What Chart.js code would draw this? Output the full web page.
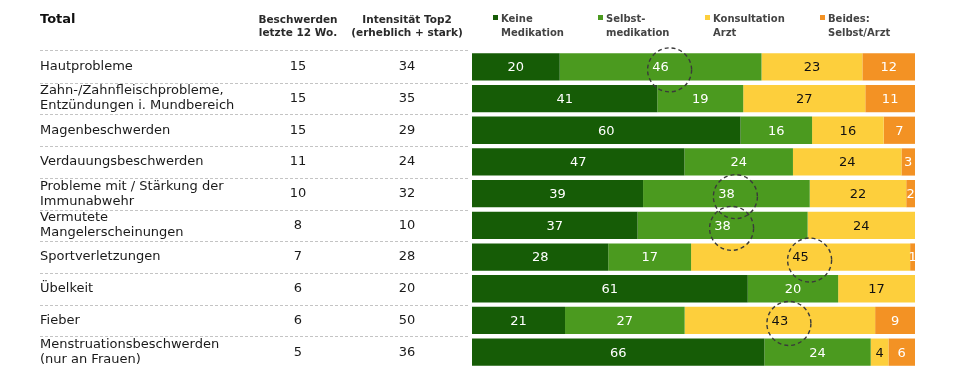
<!DOCTYPE html>
<html>
<head>
<meta charset="utf-8">
<title>Total</title>
<script src="https://cdn.jsdelivr.net/npm/chart.js"></script>
<style>body{margin:0;background:#fff}</style>
</head>
<body>
<canvas id="chart" width="955" height="376"></canvas>
<script>
var categories = [
    'Hautprobleme',
    ['Zahn-/Zahnfleischprobleme,', 'Entzündungen i. Mundbereich'],
    'Magenbeschwerden',
    'Verdauungsbeschwerden',
    ['Probleme mit / Stärkung der', 'Immunabwehr'],
    ['Vermutete', 'Mangelerscheinungen'],
    'Sportverletzungen',
    'Übelkeit',
    'Fieber',
    ['Menstruationsbeschwerden', '(nur an Frauen)']
];
var beschwerden12Wo = [15, 15, 15, 11, 10, 8, 7, 6, 6, 5];
var intensitaetTop2 = [34, 35, 29, 24, 32, 10, 28, 20, 50, 36];

var keineMedikation = [20, 41, 60, 47, 39, 37, 28, 61, 21, 66];
var selbstmedikation = [46, 19, 16, 24, 38, 38, 17, 20, 27, 24];
var konsultationArzt = [23, 27, 16, 24, 22, 24, 45, 17, 43, 4];
var beidesSelbstArzt = [12, 11, 7, 3, 2, null, 1, null, 9, 6];

var seriesNames = [['Keine', 'Medikation'], ['Selbst-', 'medikation'], ['Konsultation', 'Arzt'], ['Beides:', 'Selbst/Arzt']];
var seriesColors = ['#165c06', '#4b9a1f', '#fdcf3c', '#f39224'];
var valueColors = ['#ffffff', '#ffffff', '#111111', '#ffffff'];
var headers = [['Beschwerden', 'letzte 12 Wo.'], ['Intensität Top2', '(erheblich + stark)']];
// values marked with a dashed circle: [row, series]
var circled = [[0, 1], [4, 1], [5, 1], [6, 2], [8, 2]];

var FONT = "'DejaVu Sans', Verdana, sans-serif";
var raw = [keineMedikation, selbstmedikation, konsultationArzt, beidesSelbstArzt];

// each row is drawn as 100 %
var rowSums = categories.map(function (c, i) {
    return raw.reduce(function (s, arr) { return s + (arr[i] || 0); }, 0);
});
var datasets = raw.map(function (arr, k) {
    return {
        label: seriesNames[k].join(' '),
        data: arr.map(function (v, i) { return v == null ? null : v / rowSums[i] * 100; }),
        backgroundColor: seriesColors[k],
        borderWidth: 0,
        barPercentage: 0.86,
        categoryPercentage: 1
    };
});

var tablePlugin = {
    id: 'table',
    beforeDraw: function (chart) {
        var ctx = chart.ctx, y = chart.scales.y, area = chart.chartArea;
        ctx.save();
        // dashed row separators
        ctx.strokeStyle = '#c4c4c4';
        ctx.lineWidth = 1;
        ctx.setLineDash([3, 2]);
        var lines = [area.top - 0.5];
        for (var i = 0; i < categories.length - 1; i++) {
            lines.push(Math.round((y.getPixelForValue(i) + y.getPixelForValue(i + 1)) / 2) + 0.5);
        }
        lines.forEach(function (ly) {
            ctx.beginPath();
            ctx.moveTo(40, ly);
            ctx.lineTo(468, ly);
            ctx.stroke();
        });
        ctx.restore();
    },
    afterDraw: function (chart) {
        var ctx = chart.ctx, y = chart.scales.y, area = chart.chartArea;
        ctx.save();
        ctx.textBaseline = 'middle';
        ctx.fillStyle = '#111';
        ctx.textAlign = 'left';
        ctx.font = 'bold 13px ' + FONT;
        ctx.fillText('Total', 40, 20);

        var cols = [298, 407];
        ctx.font = 'bold 10.5px ' + FONT;
        ctx.fillStyle = '#2a2a2a';
        ctx.textAlign = 'center';
        headers.forEach(function (h, c) {
            ctx.fillText(h[0], cols[c], 20);
            ctx.fillText(h[1], cols[c], 33);
        });

        // legend
        var legendX = [area.left + 21, area.left + 126, area.left + 233, area.left + 348];
        ctx.textAlign = 'left';
        ctx.font = 'bold 10px ' + FONT;
        seriesNames.forEach(function (n, k) {
            ctx.fillStyle = seriesColors[k];
            ctx.fillRect(legendX[k], 15, 5, 5);
            ctx.fillStyle = '#444';
            ctx.fillText(n[0], legendX[k] + 8, 19);
            ctx.fillText(n[1], legendX[k] + 8, 33);
        });

        // number columns
        ctx.font = '13px ' + FONT;
        ctx.fillStyle = '#1a1a1a';
        ctx.textAlign = 'center';
        categories.forEach(function (c, i) {
            var py = y.getPixelForValue(i);
            ctx.fillText(String(beschwerden12Wo[i]), cols[0], py);
            ctx.fillText(String(intensitaetTop2[i]), cols[1], py);
        });
        ctx.restore();
    },
    afterDatasetsDraw: function (chart) {
        var ctx = chart.ctx;
        ctx.save();
        ctx.font = '13px ' + FONT;
        ctx.textAlign = 'center';
        ctx.textBaseline = 'middle';
        chart.data.datasets.forEach(function (ds, k) {
            var meta = chart.getDatasetMeta(k);
            meta.data.forEach(function (bar, i) {
                var v = raw[k][i];
                if (v == null) return;
                ctx.fillStyle = valueColors[k];
                ctx.fillText(String(v), (bar.x + bar.base) / 2, bar.y + 1);
            });
        });
        // dashed circles
        ctx.strokeStyle = '#3a3a3a';
        ctx.lineWidth = 1.4;
        ctx.setLineDash([4, 3]);
        circled.forEach(function (c) {
            var bar = chart.getDatasetMeta(c[1]).data[c[0]];
            ctx.beginPath();
            ctx.arc((bar.x + bar.base) / 2 + 9, bar.y + 3, 22, 0, Math.PI * 2);
            ctx.stroke();
        });
        ctx.restore();
    }
};

var chart = new Chart(document.getElementById('chart').getContext('2d'), {
    type: 'bar',
    data: { labels: categories, datasets: datasets },
    options: {
        indexAxis: 'y',
        responsive: false,
        animation: false,
        devicePixelRatio: 1,
        layout: { padding: { left: 40, right: 40, top: 51, bottom: 8 } },
        plugins: { legend: { display: false }, tooltip: { enabled: false } },
        scales: {
            x: { stacked: true, min: 0, max: 100, display: false },
            y: {
                stacked: true,
                grid: { display: false },
                border: { display: false },
                afterFit: function (scale) { scale.width = 432; },
                ticks: {
                    autoSkip: false,
                    crossAlign: 'far',
                    padding: 0,
                    color: '#1a1a1a',
                    font: { family: FONT, size: 13, lineHeight: 1.15 }
                }
            }
        }
    },
    plugins: [tablePlugin]
});
</script>
</body>
</html>
